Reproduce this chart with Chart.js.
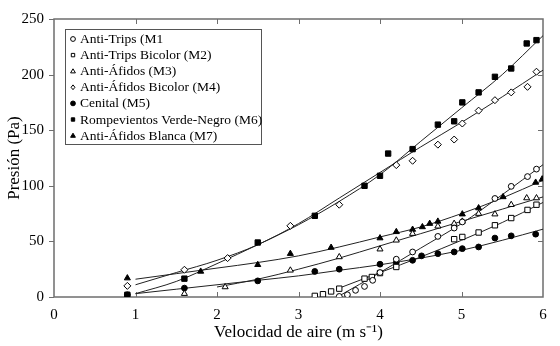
<!DOCTYPE html>
<html><head><meta charset="utf-8">
<script src="https://cdn.jsdelivr.net/npm/chart.js@4/dist/chart.umd.min.js"></script>
<style>html,body{margin:0;padding:0;background:#fff;}#wrap{width:560px;height:346px;position:relative;}</style>
</head><body><div id="wrap"><canvas id="c" width="560" height="346"></canvas></div>
<script>
// ---- data ----
const xTicks = [0, 1, 2, 3, 4, 5, 6];
const yTicks = [0, 50, 100, 150, 200, 250];
const seriesNames = ["Anti-Trips (M1", "Anti-Trips Bicolor (M2)", "Anti-Áfidos (M3)", "Anti-Áfidos Bicolor (M4)", "Cenital (M5)", "Rompevientos Verde-Negro (M6)", "Anti-Áfidos Blanca (M7)"];

const xM1 = [3.5, 3.6, 3.7, 3.81, 3.91, 4.0, 4.2, 4.4, 4.71, 4.91, 5.01, 5.41, 5.61, 5.81, 5.92];
const yM1 = [0.5, 2, 6, 9.5, 15, 22, 34, 40.5, 54.5, 62, 67.5, 88.6, 99.5, 108.3, 115];
const xM2 = [3.2, 3.3, 3.4, 3.5, 3.81, 3.9, 4.0, 4.2, 4.91, 5.01, 5.21, 5.41, 5.61, 5.81, 5.92];
const yM2 = [1, 2.5, 5, 7.5, 16.5, 18, 21.5, 27, 52, 54, 58, 64.5, 71, 78.3, 83];
const xM3 = [1.6, 2.1, 2.9, 3.5, 4.0, 4.2, 4.4, 4.71, 4.91, 5.01, 5.21, 5.41, 5.61, 5.8, 5.92];
const yM3 = [3, 9, 24, 36, 43, 51, 57, 63.6, 66, 68, 75, 74.5, 83, 89, 89];
const xM4 = [0.9, 1.6, 2.13, 2.9, 3.5, 4.2, 4.4, 4.71, 4.91, 5.01, 5.21, 5.41, 5.61, 5.81, 5.92];
const yM4 = [10, 24.5, 35, 64, 83, 118.6, 122.5, 137, 141.6, 156, 167.6, 177, 184, 189, 202.6];
const xM5 = [0.9, 1.6, 2.5, 3.2, 3.5, 4.0, 4.2, 4.4, 4.51, 4.71, 4.91, 5.01, 5.21, 5.41, 5.61, 5.91];
const yM5 = [2, 8, 14.5, 23, 25, 29.5, 31, 33, 37, 39, 40.5, 43.5, 45, 53, 55, 56.5];
const xM6 = [0.9, 1.6, 2.5, 3.2, 3.81, 4.0, 4.1, 4.4, 4.71, 4.91, 5.01, 5.21, 5.41, 5.61, 5.8, 5.92];
const yM6 = [2, 16.5, 49, 73, 100, 109, 129, 133, 155, 158, 175, 184, 198, 205.5, 228, 231];
const xM7 = [0.9, 1.8, 2.5, 2.9, 3.4, 4.0, 4.2, 4.4, 4.52, 4.61, 4.71, 5.01, 5.21, 5.51, 5.91, 5.99];
const yM7 = [17, 23, 29, 39, 44.5, 53, 58.6, 60.7, 63, 66, 68, 74.5, 80, 90, 103, 106];

// fitted trend lines
const fitXLow = [1.0, 1.5, 2, 2.5, 3, 3.5, 4, 4.5, 5, 5.5, 6];
const fitXM3 = [2, 2.5, 3, 3.5, 4, 4.5, 5, 5.5, 6];
const fitXHigh = [3.5, 4, 4.5, 5, 5.5, 6];
const fitM1 = [1, 22, 44, 66, 92, 119];
const fitM2 = [8, 22, 36, 51, 67, 85];
const fitM3 = [9, 16, 25, 35, 46, 57, 68, 79, 90];
const fitM4 = [11, 22, 33, 47, 66, 89, 112, 135, 157, 180, 204];
const fitM5 = [3, 7, 11, 15, 19, 24, 29, 35, 42, 51, 61];
const fitM6 = [3, 14, 30, 47, 65, 86, 110, 140, 170, 200, 235];
const fitM7 = [16, 21, 26, 31, 37, 45, 54, 63, 75, 89, 105];

// ---- build ----
const pts = (xs, ys) => xs.map((x, i) => ({x: x, y: ys[i]}));
const markers = [
  {style: 'circle', fill: '#fff'},
  {style: 'rect', fill: '#fff'},
  {style: 'triangle', fill: '#fff'},
  {style: 'rectRot', fill: '#fff'},
  {style: 'circle', fill: '#000'},
  {style: 'rect', fill: '#000'},
  {style: 'triangle', fill: '#000'}
];
const pointSets = [[xM1, yM1], [xM2, yM2], [xM3, yM3], [xM4, yM4], [xM5, yM5], [xM6, yM6], [xM7, yM7]];
const fitSets = [[fitXHigh, fitM1], [fitXHigh, fitM2], [fitXM3, fitM3], [fitXLow, fitM4], [fitXLow, fitM5], [fitXLow, fitM6], [fitXLow, fitM7]];
const radii = {circle: 2.9, rect: 3.8, triangle: 3.5, rectRot: 3.5};

const datasets = [];
fitSets.forEach((s, i) => {
  datasets.push({
    label: 'fit ' + seriesNames[i], data: pts(s[0], s[1]), showLine: true,
    borderColor: '#222', borderWidth: 1, pointRadius: 0, pointHoverRadius: 0,
    cubicInterpolationMode: 'monotone', fill: false, order: 2
  });
});
pointSets.forEach((s, i) => {
  const m = markers[i];
  datasets.push({
    label: seriesNames[i], data: pts(s[0], s[1]), showLine: false,
    pointStyle: m.style, pointRadius: radii[m.style], pointBackgroundColor: m.fill,
    pointBorderColor: '#000', pointBorderWidth: 1, order: 1
  });
});

const FONT = '"Liberation Serif", "Times New Roman", serif';

function drawMarker(ctx, style, fill, r, x, y) {
  ctx.beginPath();
  if (style === 'circle') { ctx.arc(x, y, r, 0, Math.PI * 2); }
  else if (style === 'rect') { const s = r * Math.SQRT1_2; ctx.rect(x - s, y - s, 2 * s, 2 * s); }
  else if (style === 'rectRot') { const s = r; ctx.moveTo(x, y - s); ctx.lineTo(x + s * 0.8, y); ctx.lineTo(x, y + s); ctx.lineTo(x - s * 0.8, y); ctx.closePath(); }
  else if (style === 'triangle') { const s = r; ctx.moveTo(x, y - s); ctx.lineTo(x + s, y + s * 0.7); ctx.lineTo(x - s, y + s * 0.7); ctx.closePath(); }
  ctx.fillStyle = fill; ctx.fill(); ctx.strokeStyle = '#000'; ctx.lineWidth = 1; ctx.stroke();
}

const framePlugin = {
  id: 'frame',
  beforeDatasetsDraw(chart) {
    const {ctx, chartArea: a, scales: {x, y}} = chart;
    ctx.save();
    ctx.strokeStyle = '#6e6e6e';
    ctx.lineWidth = 1.5;
    ctx.strokeRect(a.left, a.top, a.right - a.left, a.bottom - a.top);
    ctx.lineWidth = 1;
    ctx.beginPath();
    xTicks.forEach(v => {
      if (v === xTicks[0] || v === xTicks[xTicks.length - 1]) return;
      const px = Math.round(x.getPixelForValue(v)) + 0.5;
      ctx.moveTo(px, a.bottom); ctx.lineTo(px, a.bottom - 5);
      ctx.moveTo(px, a.top); ctx.lineTo(px, a.top + 5);
    });
    yTicks.forEach(v => {
      const py = Math.round(y.getPixelForValue(v)) + 0.5;
      ctx.moveTo(a.left, py); ctx.lineTo(a.left - 5, py);
      if (v !== yTicks[0] && v !== yTicks[yTicks.length - 1]) { ctx.moveTo(a.right, py); ctx.lineTo(a.right - 5, py); }
    });
    ctx.stroke();
    ctx.restore();
  }
};

const legendPlugin = {
  id: 'boxLegend',
  afterDatasetsDraw(chart) {
    const {ctx, chartArea: a} = chart;
    const left = a.left + 11, top = a.top + 10, w = 196, h = 115;
    ctx.save();
    ctx.fillStyle = '#fff';
    ctx.fillRect(left, top, w, h);
    ctx.strokeStyle = '#555';
    ctx.lineWidth = 1;
    ctx.strokeRect(left + 0.5, top + 0.5, w, h);
    ctx.font = '13.5px ' + FONT;
    ctx.textBaseline = 'middle';
    seriesNames.forEach((name, i) => {
      const cy = top + 10 + i * 16.1;
      const m = markers[i];
      drawMarker(ctx, m.style, m.fill, 2.4, left + 8, cy);
      ctx.fillStyle = '#000';
      ctx.fillText(name, left + 15, cy + 0.5);
    });
    ctx.restore();
  }
};

new Chart(document.getElementById('c'), {
  type: 'scatter',
  data: {datasets: datasets},
  options: {
    responsive: false, animation: false, devicePixelRatio: 1,
    layout: {padding: {top: 15, right: 17, left: 0, bottom: 0}},
    plugins: {legend: {display: false}, tooltip: {enabled: false}},
    scales: {
      x: {
        type: 'linear', min: 0, max: 6,
        afterBuildTicks: s => { s.ticks = xTicks.map(v => ({value: v})); },
        afterFit: s => { s.height = 49; },
        grid: {display: false, drawTicks: false}, border: {display: false},
        ticks: {color: '#000', padding: 9, font: {family: FONT, size: 15}},
        title: {display: true, text: 'Velocidad de aire (m s\u207B\u00B9)', color: '#000', font: {family: FONT, size: 17}, padding: {top: 0, bottom: 3}}
      },
      y: {
        type: 'linear', min: 0, max: 250,
        afterBuildTicks: s => { s.ticks = yTicks.map(v => ({value: v})); },
        afterFit: s => { s.width = 54; },
        grid: {display: false, drawTicks: false}, border: {display: false},
        ticks: {color: '#000', padding: 10, font: {family: FONT, size: 15}},
        title: {display: true, text: 'Presión (Pa)', color: '#000', font: {family: FONT, size: 17}, padding: {top: 4, bottom: 0}}
      }
    }
  },
  plugins: [framePlugin, legendPlugin]
});
</script>
</body></html>
